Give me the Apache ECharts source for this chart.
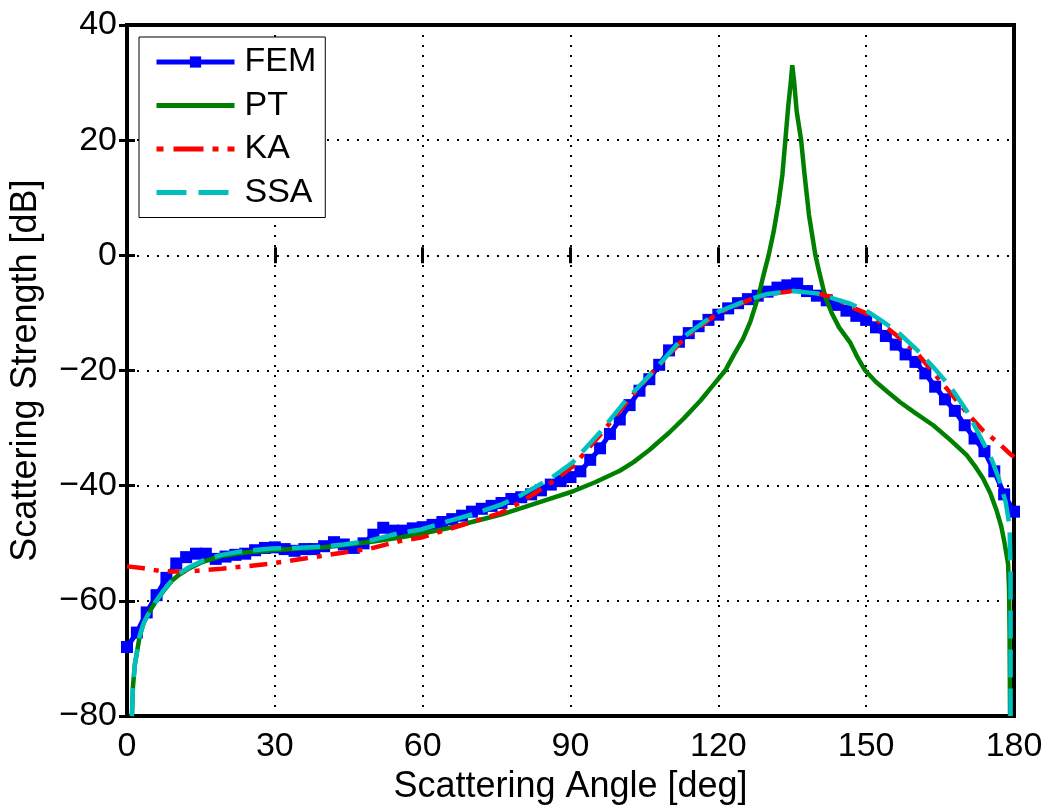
<!DOCTYPE html>
<html>
<head>
<meta charset="utf-8">
<script src="https://cdn.jsdelivr.net/npm/echarts@6/dist/echarts.min.js"></script>
<style>
html,body{margin:0;padding:0;background:#fff;}
#chart{width:1047px;height:810px;}
</style>
</head>
<body>
<div id="chart"></div>
<script>
// ---- data ----
const femAngle = [0,2,4,6,8,10,12,14,16,18,20,22,24,26,28,30,32,34,36,38,40,42,44,46,48,50,52,54,56,58,60,62,64,66,68,70,72,74,76,78,80,82,84,86,88,90,92,94,96,98,100,102,104,106,108,110,112,114,116,118,120,122,124,126,128,130,132,134,136,138,140,142,144,146,148,150,152,154,156,158,160,162,164,166,168,170,172,174,176,178,180];
const femDB = [-68,-65.5,-62,-59,-56,-53.5,-52.4,-51.8,-51.8,-52.7,-52.3,-52,-51.8,-51.2,-50.8,-50.7,-51,-51.3,-51,-51,-50.5,-49.8,-50.2,-50.8,-50,-48.5,-47.3,-47.8,-47.8,-47.4,-47.2,-46.8,-46.3,-45.8,-45.2,-44.5,-44,-43.5,-43,-42.3,-42,-41.5,-40.8,-39.8,-39.2,-38.5,-37.5,-35.5,-33.5,-31,-28.5,-26,-23.5,-21.5,-19,-16.5,-15,-13.5,-12.3,-11.2,-10.3,-9.2,-8.3,-7.6,-7,-6.3,-5.6,-5.2,-4.9,-6.2,-7,-7.8,-8.6,-9.6,-10.5,-11.2,-12.5,-14,-15.5,-17.2,-18.5,-20.5,-22.8,-25,-27,-29.5,-31.8,-34,-37.5,-41.5,-44.5];

const ptData = [[1.0,-80],[1.2,-75],[1.6,-71],[2.0,-69],[2.6,-66],[3.4,-63.8],[4.5,-62],[5.7,-60.3],[7.4,-58.3],[9.1,-56.5],[10.5,-55.5],[12.5,-54.4],[15.4,-53.2],[19.2,-52.2],[24,-51.6],[29.4,-51.2],[35,-50.9],[40,-50.7],[45,-50.2],[50,-49.7],[55.4,-49],[60,-48.3],[65,-47.4],[70,-46.3],[75.9,-45],[80,-43.9],[85,-42.5],[90.4,-41],[95,-39.4],[100,-37.4],[102.8,-35.9],[106,-33.8],[110,-30.8],[113,-28.3],[116.4,-25.2],[118.5,-23],[121.4,-20],[123,-17.5],[125,-14.5],[126.5,-11.5],[128.2,-6.9],[129,-4],[130.2,0],[131.2,4],[132.2,9],[133,14],[133.6,20],[134.2,26],[134.7,30],[135,33],[135.4,30],[135.9,25],[136.8,20],[137.5,14],[138.4,7],[139.7,0],[140.5,-3],[141.7,-7.2],[143,-10],[144.5,-12.5],[146.8,-15.2],[148.3,-17.8],[149.8,-20],[152,-22],[154.5,-23.8],[156.9,-25.5],[160,-27.4],[163.6,-29.5],[167,-32],[170.4,-34.7],[172,-36.5],[173.7,-38.7],[175.2,-41.3],[176.5,-44.4],[177.4,-47],[178.1,-50],[178.8,-53.6],[179.0,-58],[179.1,-65],[179.2,-80]];

const kaData = [[0,-54],[3,-54.3],[6,-54.7],[9,-54.9],[12.4,-54.9],[15,-54.7],[19.2,-54.4],[24,-54],[29.4,-53.5],[34,-52.9],[39.4,-52.2],[44,-51.6],[49.4,-50.9],[55.4,-49.6],[59.7,-49],[65,-47.6],[70,-46.3],[75.9,-44.7],[80,-42.8],[86,-39.5],[90.4,-36.7],[96,-31.2],[101.4,-25.5],[106.3,-20.6],[113,-14.5],[120,-10],[126.4,-7.7],[130,-6.8],[135,-6.2],[140,-6.6],[143.4,-7.3],[146.8,-8.9],[150.4,-10.2],[153.4,-12],[156.9,-14.4],[160.3,-17],[163.6,-20.3],[167,-23.8],[170.4,-27.3],[173.7,-30.4],[176.9,-32.6],[179.1,-34.4],[180,-35]];

const ssaData = [[1.0,-80],[1.2,-75],[1.6,-71],[2.0,-69],[2.6,-66],[3.4,-63.8],[4.5,-62],[5.7,-60.3],[7.4,-58.2],[9.1,-56.4],[10.5,-55.3],[12.5,-54.2],[15.4,-53],[19.2,-52],[24,-51.3],[29.4,-50.9],[34,-50.8],[39.4,-50.6],[44,-50.2],[49.4,-49.5],[55.4,-48.2],[59.7,-47.6],[65,-46.2],[70,-45],[75.9,-43.3],[80,-41.6],[86,-38.7],[90.4,-36],[96,-30.7],[101.4,-25],[106.3,-20.6],[113,-14.1],[120,-9.8],[126.4,-7.6],[130,-6.7],[135,-6.2],[140,-6.6],[143.4,-7.5],[146.8,-8.4],[150.4,-9.8],[153.4,-11.5],[156.9,-13.7],[160.3,-16.4],[163.6,-19.4],[167,-22.7],[170.4,-27],[173.7,-32.4],[175.5,-35.5],[176.9,-38.7],[178.3,-42.8],[179.1,-47],[179.3,-55],[179.3,-80]];

const xTicks = [0,30,60,90,120,150,180];
const yTicks = [-80,-60,-40,-20,0,20,40];
const seriesNames = ['FEM','PT','KA','SSA'];

// ---- chart ----
const FONT = '"Liberation Sans", Arial, Helvetica, sans-serif';
const femData = femAngle.map((a,i)=>[a, femDB[i]]);
const tickLine = {show:true, inside:true, length:8, lineStyle:{color:'#000', width:3}};
const dotted = {show:true, lineStyle:{color:'#000', width:2, type:[2,8]}};

const legendItems = [
  {name:'FEM', lineStyle:{width:5}},
  {name:'PT', lineStyle:{width:5}, itemStyle:{opacity:0}},
  {name:'KA', lineStyle:{width:5, type:[7,10,30,9,6,9,8]}, itemStyle:{opacity:0}},
  {name:'SSA', lineStyle:{width:5, type:[30,12]}, itemStyle:{opacity:0}}
];

const chart = echarts.init(document.getElementById('chart'), null, {renderer:'canvas'});
chart.setOption({
  animation:false,
  backgroundColor:'#fff',
  grid:{left:125, right:33, top:25, bottom:86, show:true, borderColor:'#000', borderWidth:4, backgroundColor:'transparent'},
  legend:{
    left:139, top:37, orient:'vertical',
    data:legendItems,
    backgroundColor:'#fff', borderColor:'#000', borderWidth:1, borderRadius:0,
    padding:[8,9,8,15],
    itemWidth:78, itemHeight:14, itemGap:9.5,
    textStyle:{fontFamily:FONT, fontSize:34, lineHeight:34, color:'#000', padding:[0,0,0,5]}
  },
  xAxis:[{
    type:'value', min:xTicks[0], max:xTicks[xTicks.length-1], interval:30, position:'bottom',
    axisLine:{show:false}, axisTick:tickLine, splitLine:dotted,
    axisLabel:{fontFamily:FONT, fontSize:34, lineHeight:34, color:'#000', margin:14,
      formatter:v=> xTicks.includes(v) ? String(v) : ''},
    name:'Scattering Angle [deg]', nameLocation:'middle', nameGap:48,
    nameTextStyle:{fontFamily:FONT, fontSize:36, lineHeight:36, color:'#000'}
  },{
    type:'value', min:xTicks[0], max:xTicks[xTicks.length-1], interval:30, position:'top',
    axisLine:{show:false}, axisTick:tickLine, splitLine:{show:false}, axisLabel:{show:false}
  }],
  yAxis:[{
    type:'value', min:yTicks[0], max:yTicks[yTicks.length-1], interval:20, position:'left',
    axisLine:{show:false}, axisTick:tickLine, splitLine:dotted,
    axisLabel:{fontFamily:FONT, fontSize:34, lineHeight:34, color:'#000', margin:10,
      formatter:v=> yTicks.includes(v) ? String(v).replace('-', '\u2212') : ''},
    name:'Scattering Strength [dB]', nameLocation:'middle', nameGap:83, nameRotate:90,
    nameTextStyle:{fontFamily:FONT, fontSize:36, lineHeight:36, color:'#000'}
  },{
    type:'value', min:yTicks[0], max:yTicks[yTicks.length-1], interval:20, position:'right',
    axisLine:{show:false}, axisTick:tickLine, splitLine:{show:false}, axisLabel:{show:false}
  }],
  series:[
    {name:'FEM', type:'line', data:femData, symbol:'rect', symbolSize:12, showSymbol:true,
     itemStyle:{color:'#0000ff'}, lineStyle:{color:'#0000ff', width:5}, z:2},
    {name:'PT', type:'line', data:ptData, symbol:'none',
     itemStyle:{color:'#008000'}, lineStyle:{color:'#008000', width:4.5}, z:3},
    {name:'KA', type:'line', data:kaData, symbol:'none',
     itemStyle:{color:'#ff0000'}, lineStyle:{color:'#ff0000', width:4.5, type:[18,9,5,9]}, z:4},
    {name:'SSA', type:'line', data:ssaData, symbol:'none',
     itemStyle:{color:'#00bfbf'}, lineStyle:{color:'#00bfbf', width:4.5, type:[28,11]}, z:5}
  ]
});
</script>
</body>
</html>
